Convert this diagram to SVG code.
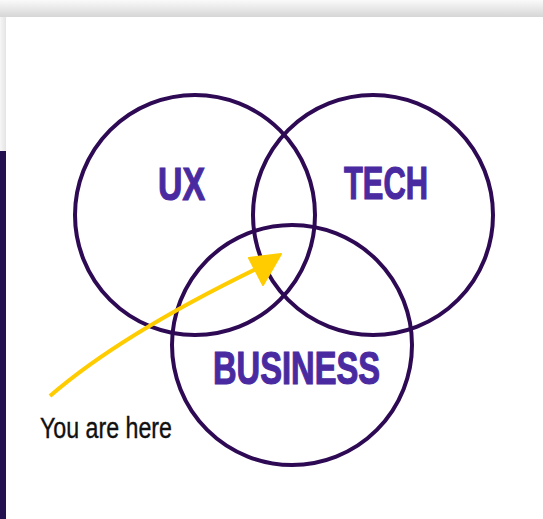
<svg xmlns="http://www.w3.org/2000/svg" width="543" height="519" viewBox="0 0 543 519">
  <defs>
    <linearGradient id="topShadow" x1="0" y1="0" x2="0" y2="1">
      <stop offset="0" stop-color="#fafafa"/>
      <stop offset="1" stop-color="#d6d6d6"/>
    </linearGradient>
    <linearGradient id="leftShadow" x1="0" y1="0" x2="1" y2="0">
      <stop offset="0" stop-color="#f6f6f6"/>
      <stop offset="1" stop-color="#e4e4e4"/>
    </linearGradient>
    <style>
      .ring { fill: none; stroke: #2e0a55; stroke-width: 4; }
      .label { font-family: "Liberation Sans", Arial, sans-serif; font-weight: bold; font-size: 46px; fill: #4a2aa0; stroke: #4a2aa0; stroke-width: 1.2; }
      .note { font-family: "Liberation Sans", Arial, sans-serif; font-size: 30px; fill: #111111; stroke: #111111; stroke-width: 0.4; }
      .pointer { fill: none; stroke: #ffcc00; stroke-width: 4; }
      .pointer-head { fill: #ffcc00; stroke: #ffcc00; stroke-width: 2; stroke-linejoin: round; }
    </style>
  </defs>
  <rect x="0" y="0" width="543" height="519" fill="#ffffff"/>
  <rect x="0" y="0" width="543" height="17" fill="url(#topShadow)"/>
  <rect x="0" y="17" width="6" height="134" fill="url(#leftShadow)"/>
  <rect x="0" y="151" width="6" height="368" fill="#22104f"/>

  <g id="ux">
    <circle class="ring" cx="195" cy="215" r="120"/>
    <text class="label" x="158" y="200" textLength="47" lengthAdjust="spacingAndGlyphs">UX</text>
  </g>
  <g id="tech">
    <circle class="ring" cx="373" cy="215" r="120"/>
    <text class="label" x="344" y="199" textLength="84" lengthAdjust="spacingAndGlyphs">TECH</text>
  </g>
  <g id="business">
    <circle class="ring" cx="292" cy="345" r="120"/>
    <text class="label" x="213" y="384" textLength="167" lengthAdjust="spacingAndGlyphs">BUSINESS</text>
  </g>
  <g id="you-are-here">
    <text class="note" x="40" y="438" textLength="132" lengthAdjust="spacingAndGlyphs">You are here</text>
  </g>
  <g id="connectors">
    <path class="pointer" d="M50,396 Q120,335 258,268"/>
    <polygon class="pointer-head" points="249,258 281,254 263,285"/>
  </g>
</svg>
